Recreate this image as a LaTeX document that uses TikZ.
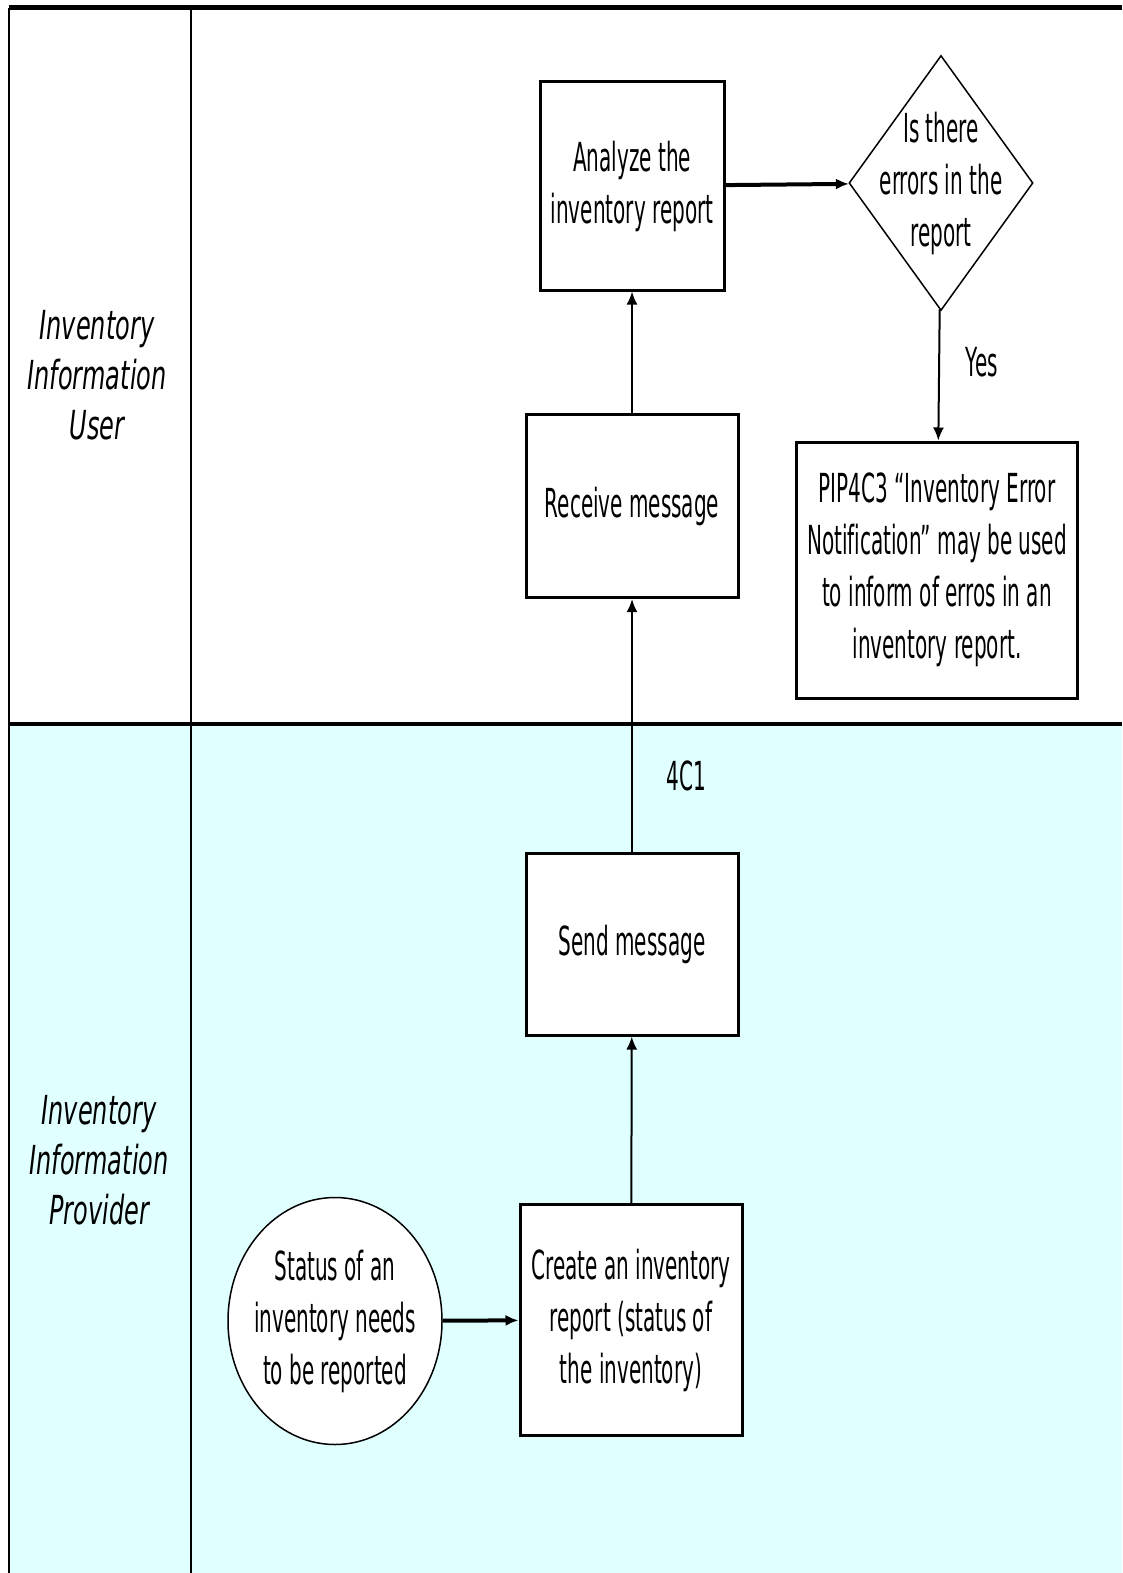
\documentclass[tikz,border=0pt]{standalone}
\usepackage{fontspec}
\setmainfont{DejaVu Sans}[FakeStretch=0.5, Ligatures=NoCommon]
\newfontfamily\lanefont{DejaVu Sans}[FakeStretch=0.6]
\usepackage{tikz}
\usetikzlibrary{arrows.meta, positioning}
\usetikzlibrary{shapes.geometric}

\definecolor{laneCyan}{RGB}{224,255,255}

\tikzset{
  procBox/.style={rectangle, draw=black, line width=3pt, fill=white, align=center, inner sep=0pt},
  thinShape/.style={draw=black, line width=1.5pt, fill=white, inner sep=0pt},
  inText/.style={label={[align=center]center:#1}},
  lane/.style={font=\lanefont\itshape\fontsize{40}{50}\selectfont, align=center},
  flow/.style={->, line width=2pt},
  flowThick/.style={->, line width=4pt}
}

\begin{document}
\begin{tikzpicture}[x=1pt, y=-1pt, >={Latex[length=13pt,width=11pt]},
    font=\fontsize{40}{52}\selectfont]

\useasboundingbox (0,0) rectangle (1122,1573);

% LANES
\fill[laneCyan] (9,724) rectangle (1122,1573);
\draw[line width=2.5pt] (9,8) -- (9,1573);
\draw[line width=2.5pt] (191,8) -- (191,1573);
\draw[line width=5pt] (9,8) -- (1122,8);
\draw[line width=4pt] (9,724) -- (1122,724);

\node[lane] (userLane) at (97,375) {Inventory\\Information\\User};
\node[lane] (providerLane) at (99,1160) {Inventory\\Information\\Provider};

% STATES
\node[procBox, minimum width=184pt, minimum height=208pt] (analyze) at (632,186) {Analyze the\\inventory report};
\node[diamond, thinShape, minimum width=184pt, minimum height=255pt,
      inText={Is there\\errors in the\\report}] (errCheck) at (941,183) {};
\node[procBox, minimum width=212pt, minimum height=183pt] (recvMsg) at (632,506) {Receive message};
\node[procBox, minimum width=281pt, minimum height=256pt] (errNotify) at (937,570)
      {PIP4C3 ``Inventory Error\\Notification'' may be used\\to inform of erros in an\\inventory report.};
\node[procBox, minimum width=212pt, minimum height=182pt] (sendMsg) at (632,944) {Send message};
\node[procBox, minimum width=222pt, minimum height=231pt] (createRep) at (631,1320)
      {Create an inventory\\report (status of\\the inventory)};
\node[ellipse, thinShape, minimum width=214pt, minimum height=247pt,
      inText={Status of an\\inventory needs\\to be reported}] (startEv) at (335,1321) {};

% STRAIGHT ARROWS
\draw[flowThick] (startEv) -- (createRep);
\draw[flow] (createRep) -- (sendMsg);
\draw[flow] (sendMsg) -- node[right=30pt, pos=0.3] (msgCode) {4C1} (recvMsg);
\draw[flow] (recvMsg) -- (analyze);
\draw[flowThick] (analyze) -- (errCheck);
\draw[flow] (errCheck) -- node[right=22pt, pos=0.4] (yesLbl) {Yes} (errNotify);

\end{tikzpicture}
\end{document}
